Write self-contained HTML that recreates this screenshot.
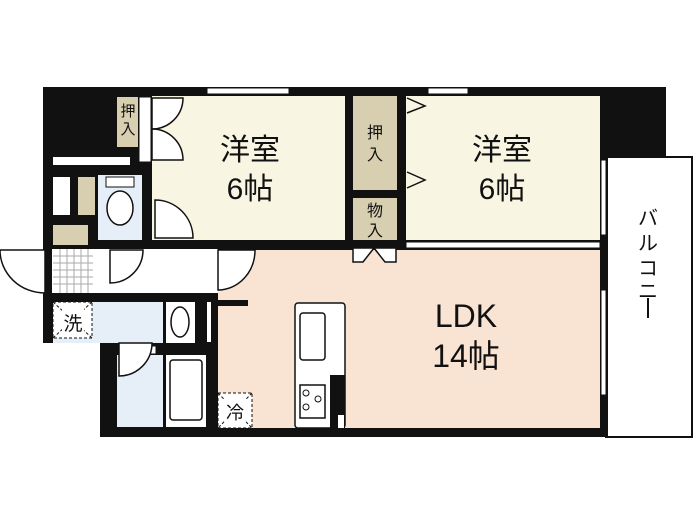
<!DOCTYPE html>
<html><head><meta charset="utf-8"><style>
html,body{margin:0;padding:0;background:#fff}
svg{display:block}
text{font-family:"Liberation Sans","Noto Sans CJK JP",sans-serif;fill:#111}
</style></head><body>
<svg width="700" height="525" viewBox="0 0 700 525" xmlns="http://www.w3.org/2000/svg">
<rect width="700" height="525" fill="#fff"/>
<!-- main black mass -->
<rect x="43" y="87" width="565" height="350" fill="#111"/>
<rect x="600" y="87" width="66" height="70" fill="#111"/>
<!-- cut out outside areas -->
<rect x="0" y="343" width="100" height="100" fill="#fff"/>
<rect x="0" y="437" width="700" height="90" fill="#fff"/>
<!-- balcony -->
<rect x="606" y="157" width="86" height="280" fill="#fff" stroke="#111" stroke-width="2"/>
<rect x="604" y="157" width="4" height="280" fill="#111"/>
<!-- bedroom 1 -->
<rect x="152" y="96" width="193" height="144" fill="#f8f5e2"/>
<!-- bedroom 2 -->
<rect x="406" y="96" width="194" height="144" fill="#f8f5e2"/>
<!-- closets -->
<rect x="353" y="96" width="44" height="94" fill="#d8ceb0"/>
<rect x="353" y="198" width="44" height="42" fill="#d8ceb0"/>
<rect x="117" y="97" width="21" height="50" fill="#d8ceb0"/>
<rect x="139" y="97" width="12" height="65" fill="#fff" stroke="#111"/>
<!-- LDK -->
<rect x="218" y="250" width="382" height="178" fill="#f9e4d3"/>
<!-- corridor -->
<rect x="52" y="249" width="166" height="44" fill="#fff"/>
<!-- entrance tiles -->
<rect x="53" y="249" width="40" height="44" fill="#fff"/>
<g stroke="#aaa" stroke-width="1">
<line x1="60" y1="249" x2="60" y2="293"/><line x1="67" y1="249" x2="67" y2="293"/><line x1="74" y1="249" x2="74" y2="293"/><line x1="81" y1="249" x2="81" y2="293"/><line x1="88" y1="249" x2="88" y2="293"/>
<line x1="53" y1="256" x2="93" y2="256"/><line x1="53" y1="263" x2="93" y2="263"/><line x1="53" y1="270" x2="93" y2="270"/><line x1="53" y1="277" x2="93" y2="277"/><line x1="53" y1="284" x2="93" y2="284"/>
</g>
<!-- left storage -->
<rect x="53" y="157" width="77" height="8" fill="#fff"/>
<rect x="53" y="177" width="17" height="38" fill="#fff"/>
<rect x="78" y="177" width="17" height="38" fill="#d8ceb0"/>
<rect x="53" y="225" width="35" height="20" fill="#d8ceb0"/>
<!-- toilet -->
<rect x="98" y="175" width="44" height="65" fill="#e6eef8"/>
<rect x="106" y="177" width="28" height="10" fill="#fff" stroke="#111"/>
<ellipse cx="120" cy="208" rx="13" ry="17" fill="#fff" stroke="#111" stroke-width="1.5"/>
<!-- washroom -->
<rect x="53" y="302" width="110" height="41" fill="#e6eef8"/>
<rect x="53" y="302" width="39" height="36" fill="#fff" stroke="#111" stroke-dasharray="3,2"/>
<line x1="53" y1="302" x2="92" y2="338" stroke="#111" stroke-dasharray="3,2"/>
<line x1="92" y1="302" x2="53" y2="338" stroke="#111" stroke-dasharray="3,2"/>
<rect x="62" y="308" width="22" height="24" fill="#fff"/>
<text x="73" y="330" font-size="19" text-anchor="middle">洗</text>
<rect x="166" y="302" width="29" height="41" fill="#fff"/>
<ellipse cx="180" cy="322" rx="9" ry="15" fill="#fff" stroke="#111" stroke-width="1.5"/>
<rect x="207" y="302" width="4" height="40" fill="#fff"/>
<rect x="218" y="300" width="30" height="6" fill="#111"/>
<!-- bath -->
<rect x="117" y="355" width="46" height="72" fill="#e6eef8"/>
<rect x="120" y="346" width="36" height="8" fill="#fff" stroke="#111"/>
<rect x="166" y="355" width="40" height="72" fill="#fff"/>
<rect x="170" y="360" width="32" height="60" rx="3" fill="#fff" stroke="#111" stroke-width="1.5"/>
<!-- fridge -->
<rect x="218" y="393" width="34" height="35" fill="#fff" stroke="#111" stroke-dasharray="3,2"/>
<line x1="218" y1="393" x2="252" y2="428" stroke="#111" stroke-dasharray="3,2"/>
<line x1="252" y1="393" x2="218" y2="428" stroke="#111" stroke-dasharray="3,2"/>
<rect x="224" y="400" width="22" height="22" fill="#fff"/>
<text x="235" y="419" font-size="18" text-anchor="middle">冷</text>
<!-- kitchen counter -->
<rect x="295" y="303" width="50" height="125" rx="3" fill="#fff" stroke="#111" stroke-width="1.5"/>
<rect x="300" y="313" width="25" height="47" rx="3" fill="#fff" stroke="#111" stroke-width="1.5"/>
<rect x="300" y="385" width="25" height="33" fill="#fff" stroke="#111" stroke-width="1.5"/>
<circle cx="306" cy="393" r="3" fill="none" stroke="#111"/><circle cx="318" cy="399" r="3" fill="none" stroke="#111"/><circle cx="306" cy="407" r="3" fill="none" stroke="#111"/>
<rect x="330" y="375" width="15" height="53" fill="#111"/>
<rect x="338" y="415" width="6" height="13" fill="#fff"/>
<!-- windows -->
<g fill="#fff" stroke="#111" stroke-width="1">
<rect x="207" y="88" width="82" height="6"/>
<rect x="428" y="88" width="40" height="6"/>
<rect x="406" y="242" width="194" height="6"/>
<rect x="601" y="160" width="5" height="75"/>
<rect x="601" y="290" width="5" height="105"/>
</g>
<!-- door arcs -->
<g fill="#fff" stroke="#111" stroke-width="1.5">
<path d="M45 250 L0 250 A45 43 0 0 0 45 293 Z"/>
<path d="M218 250 L255 250 A37 40 0 0 1 218 290 Z"/>
<path d="M110 250 L143 250 A33 33 0 0 1 110 283 Z"/>
<path d="M155 200 A38 38 0 0 1 193 238 L155 238 Z"/>
<path d="M152 98 L183 98 A31 31 0 0 1 152 129 Z"/>
<path d="M152 129 A31 31 0 0 1 183 160 L152 160 Z"/>
<path d="M119 343 L152 343 A33 33 0 0 1 119 376 Z"/>
<path d="M353 248 L396 248 L396 262 L385 262 L374 248 L363 262 L353 262 Z"/>
<polyline points="407,98 425,106 407,113" fill="none"/>
<polyline points="407,172 425,180 407,188" fill="none"/>
</g>
<!-- labels -->
<text x="128" y="116" font-size="15" text-anchor="middle">押</text>
<text x="128" y="134" font-size="15" text-anchor="middle">入</text>
<text x="375" y="138" font-size="16" text-anchor="middle">押</text>
<text x="375" y="160" font-size="16" text-anchor="middle">入</text>
<text x="375" y="216" font-size="16" text-anchor="middle">物</text>
<text x="375" y="236" font-size="16" text-anchor="middle">入</text>
<text x="250" y="160" font-size="30" text-anchor="middle">洋室</text>
<text x="250" y="199" font-size="30" text-anchor="middle">6帖</text>
<text x="502" y="160" font-size="30" text-anchor="middle">洋室</text>
<text x="502" y="199" font-size="30" text-anchor="middle">6帖</text>
<text x="466" y="327" font-size="32" text-anchor="middle">LDK</text>
<text x="466" y="367" font-size="32" text-anchor="middle">14帖</text>
<text x="648" y="225" font-size="20" text-anchor="middle">バ</text>
<text x="648" y="250" font-size="20" text-anchor="middle">ル</text>
<text x="648" y="275" font-size="20" text-anchor="middle">コ</text>
<text x="648" y="298" font-size="20" text-anchor="middle">ニ</text>
<rect x="647" y="298" width="2" height="20" fill="#111"/>
</svg>
</body></html>
